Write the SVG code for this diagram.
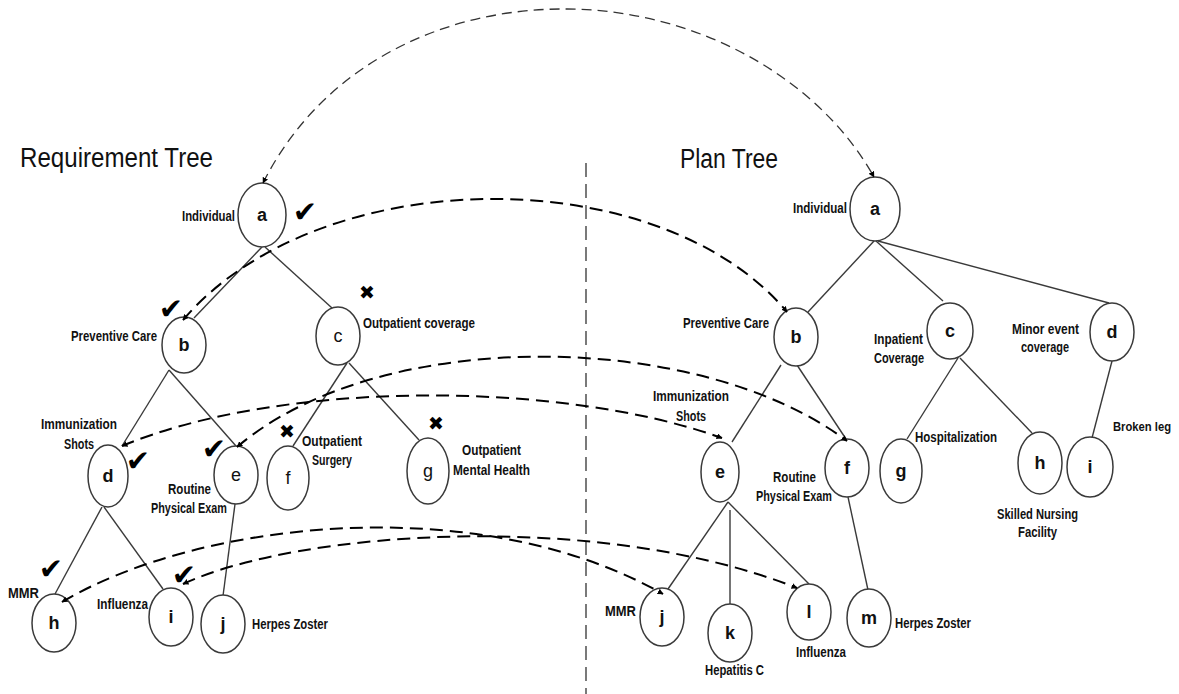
<svg xmlns="http://www.w3.org/2000/svg" width="1179" height="694" viewBox="0 0 1179 694">
<style>
.nd{fill:#fff;stroke:#3a3a3a;stroke-width:1.5}
.ed{stroke:#3a3a3a;stroke-width:1.4;fill:none}
.lt{font-family:"Liberation Sans",Arial,sans-serif;font-size:18px;font-weight:bold;fill:#111;text-anchor:middle}
.lr{font-family:"Liberation Sans",Arial,sans-serif;font-size:18px;fill:#111;text-anchor:middle}
.lb{font-family:"Liberation Sans",Arial,sans-serif;font-size:14px;font-weight:bold;fill:#111}
.ttl{font-family:"Liberation Sans",Arial,sans-serif;font-size:27px;fill:#111}
.ck{font-family:"DejaVu Sans",sans-serif;font-size:29px;fill:#000;text-anchor:middle}
.xx{font-family:"DejaVu Sans",sans-serif;font-size:19px;fill:#000;text-anchor:middle}
.dk{stroke:#000;stroke-width:2;stroke-dasharray:13 7;fill:none;marker-start:url(#ah);marker-end:url(#ah)}
.dt{stroke:#333;stroke-width:1.3;stroke-dasharray:10 6;fill:none;marker-start:url(#ah);marker-end:url(#ah)}
</style>
<defs>
<marker id="ah" viewBox="0 0 10 10" refX="9" refY="5" markerWidth="6" markerHeight="6" markerUnits="userSpaceOnUse" orient="auto-start-reverse">
<path d="M0,0 L10,5 L0,10 z" fill="#000"/>
</marker>
</defs>
<rect width="1179" height="694" fill="#fff"/>

<text class="ttl" x="20" y="167" textLength="193" lengthAdjust="spacingAndGlyphs">Requirement Tree</text>
<text class="ttl" x="680" y="168" textLength="98" lengthAdjust="spacingAndGlyphs">Plan Tree</text>
<line x1="586" y1="163" x2="586" y2="694" stroke="#333" stroke-width="1.3" stroke-dasharray="14 7"/>

<g id="edges">
<line class="ed" x1="262" y1="247" x2="194" y2="318"/>
<line class="ed" x1="265" y1="247" x2="332" y2="308"/>
<line class="ed" x1="169" y1="370" x2="122" y2="446"/>
<line class="ed" x1="169" y1="370" x2="236" y2="446"/>
<line class="ed" x1="347" y1="363" x2="293" y2="446"/>
<line class="ed" x1="349" y1="363" x2="419" y2="440"/>
<line class="ed" x1="102" y1="507" x2="55" y2="594"/>
<line class="ed" x1="104" y1="507" x2="163" y2="589"/>
<line class="ed" x1="235" y1="504" x2="223" y2="596"/>
<line class="ed" x1="874" y1="241" x2="808" y2="312"/>
<line class="ed" x1="876" y1="241" x2="943" y2="301"/>
<line class="ed" x1="878" y1="241" x2="1109" y2="303"/>
<line class="ed" x1="781" y1="365" x2="732" y2="442"/>
<line class="ed" x1="797" y1="365" x2="846" y2="439"/>
<line class="ed" x1="958" y1="358" x2="907" y2="439"/>
<line class="ed" x1="960" y1="358" x2="1032" y2="433"/>
<line class="ed" x1="1112" y1="361" x2="1092" y2="438"/>
<line class="ed" x1="728" y1="502" x2="668" y2="589"/>
<line class="ed" x1="730" y1="510" x2="730" y2="604"/>
<line class="ed" x1="728" y1="502" x2="809" y2="584"/>
<line class="ed" x1="848" y1="497" x2="868" y2="590"/>
</g>

<g id="req-a"><ellipse class="nd" cx="262" cy="215" rx="24" ry="32"/><text class="lt" x="262" y="221">a</text><text class="lb" x="182" y="221" textLength="53" lengthAdjust="spacingAndGlyphs">Individual</text><text class="ck" x="305" y="222">✔</text></g>
<g id="req-b"><ellipse class="nd" cx="184" cy="345" rx="22" ry="28"/><text class="lt" x="184" y="351">b</text><text class="lb" x="71" y="341" textLength="86" lengthAdjust="spacingAndGlyphs">Preventive Care</text><text class="ck" x="171" y="319">✔</text></g>
<g id="req-c"><ellipse class="nd" cx="338" cy="336" rx="22" ry="29"/><text class="lr" x="338" y="342">c</text><text class="lb" x="363" y="328" textLength="112" lengthAdjust="spacingAndGlyphs">Outpatient coverage</text><text class="xx" x="367" y="299">✖</text></g>
<g id="req-d"><ellipse class="nd" cx="108" cy="476" rx="20" ry="31"/><text class="lt" x="108" y="482">d</text><text class="lb" x="41" y="429" textLength="76" lengthAdjust="spacingAndGlyphs">Immunization</text><text class="lb" x="64" y="449" textLength="30" lengthAdjust="spacingAndGlyphs">Shots</text><text class="ck" x="138" y="471">✔</text></g>
<g id="req-e"><ellipse class="nd" cx="236" cy="475" rx="22" ry="29"/><text class="lr" x="236" y="481">e</text><text class="lb" x="168" y="494" textLength="43" lengthAdjust="spacingAndGlyphs">Routine</text><text class="lb" x="151" y="513" textLength="76" lengthAdjust="spacingAndGlyphs">Physical Exam</text><text class="ck" x="214" y="459">✔</text></g>
<g id="req-f"><ellipse class="nd" cx="288" cy="478" rx="21" ry="32"/><text class="lr" x="288" y="484">f</text><text class="lb" x="302" y="446" textLength="60" lengthAdjust="spacingAndGlyphs">Outpatient</text><text class="lb" x="312" y="465" textLength="40" lengthAdjust="spacingAndGlyphs">Surgery</text><text class="xx" x="287" y="438">✖</text></g>
<g id="req-g"><ellipse class="nd" cx="428" cy="471" rx="21" ry="33"/><text class="lr" x="428" y="477">g</text><text class="lb" x="462" y="455" textLength="59" lengthAdjust="spacingAndGlyphs">Outpatient</text><text class="lb" x="453" y="475" textLength="77" lengthAdjust="spacingAndGlyphs">Mental Health</text><text class="xx" x="436" y="430">✖</text></g>
<g id="req-h"><ellipse class="nd" cx="54" cy="623" rx="22" ry="29"/><text class="lt" x="54" y="629">h</text><text class="lb" x="8" y="598" textLength="31" lengthAdjust="spacingAndGlyphs">MMR</text><text class="ck" x="51" y="579">✔</text></g>
<g id="req-i"><ellipse class="nd" cx="171" cy="617" rx="22" ry="29"/><text class="lt" x="171" y="623">i</text><text class="lb" x="97" y="609" textLength="51" lengthAdjust="spacingAndGlyphs">Influenza</text><text class="ck" x="184" y="585">✔</text></g>
<g id="req-j"><ellipse class="nd" cx="223" cy="624" rx="22" ry="29"/><text class="lt" x="223" y="630">j</text><text class="lb" x="252" y="629" textLength="76" lengthAdjust="spacingAndGlyphs">Herpes Zoster</text></g>

<g id="plan-a"><ellipse class="nd" cx="875" cy="209" rx="25" ry="32"/><text class="lt" x="875" y="215">a</text><text class="lb" x="793" y="213" textLength="54" lengthAdjust="spacingAndGlyphs">Individual</text></g>
<g id="plan-b"><ellipse class="nd" cx="796" cy="337" rx="22" ry="29"/><text class="lt" x="796" y="343">b</text><text class="lb" x="683" y="328" textLength="86" lengthAdjust="spacingAndGlyphs">Preventive Care</text></g>
<g id="plan-c"><ellipse class="nd" cx="950" cy="331" rx="23" ry="28"/><text class="lt" x="950" y="337">c</text><text class="lb" x="874" y="344" textLength="49" lengthAdjust="spacingAndGlyphs">Inpatient</text><text class="lb" x="874" y="363" textLength="50" lengthAdjust="spacingAndGlyphs">Coverage</text></g>
<g id="plan-d"><ellipse class="nd" cx="1112" cy="332" rx="22" ry="29"/><text class="lt" x="1112" y="338">d</text><text class="lb" x="1012" y="334" textLength="67" lengthAdjust="spacingAndGlyphs">Minor event</text><text class="lb" x="1021" y="352" textLength="48" lengthAdjust="spacingAndGlyphs">coverage</text></g>
<g id="plan-e"><ellipse class="nd" cx="720" cy="472" rx="19" ry="30"/><text class="lt" x="720" y="478">e</text><text class="lb" x="653" y="401" textLength="76" lengthAdjust="spacingAndGlyphs">Immunization</text><text class="lb" x="676" y="421" textLength="30" lengthAdjust="spacingAndGlyphs">Shots</text></g>
<g id="plan-f"><ellipse class="nd" cx="847" cy="468" rx="22" ry="29"/><text class="lt" x="847" y="474">f</text><text class="lb" x="773" y="482" textLength="43" lengthAdjust="spacingAndGlyphs">Routine</text><text class="lb" x="756" y="501" textLength="76" lengthAdjust="spacingAndGlyphs">Physical Exam</text></g>
<g id="plan-g"><ellipse class="nd" cx="901" cy="471" rx="21" ry="32"/><text class="lt" x="901" y="477">g</text><text class="lb" x="915" y="442" textLength="82" lengthAdjust="spacingAndGlyphs">Hospitalization</text></g>
<g id="plan-h"><ellipse class="nd" cx="1040" cy="463" rx="22" ry="31"/><text class="lt" x="1040" y="469">h</text><text class="lb" x="997" y="519" textLength="81" lengthAdjust="spacingAndGlyphs">Skilled Nursing</text><text class="lb" x="1018" y="537" textLength="39" lengthAdjust="spacingAndGlyphs">Facility</text></g>
<g id="plan-i"><ellipse class="nd" cx="1090" cy="467" rx="23" ry="30"/><text class="lt" x="1090" y="473">i</text><text class="lb" x="1113" y="431" style="font-size:12px" textLength="58" lengthAdjust="spacingAndGlyphs">Broken leg</text></g>
<g id="plan-j"><ellipse class="nd" cx="662" cy="617" rx="22" ry="29"/><text class="lt" x="662" y="623">j</text><text class="lb" x="605" y="616" textLength="31" lengthAdjust="spacingAndGlyphs">MMR</text></g>
<g id="plan-k"><ellipse class="nd" cx="730" cy="633" rx="22" ry="29"/><text class="lt" x="730" y="639">k</text><text class="lb" x="705" y="675" textLength="59" lengthAdjust="spacingAndGlyphs">Hepatitis C</text></g>
<g id="plan-l"><ellipse class="nd" cx="809" cy="612" rx="22" ry="28"/><text class="lt" x="809" y="618">l</text><text class="lb" x="796" y="657" textLength="50" lengthAdjust="spacingAndGlyphs">Influenza</text></g>
<g id="plan-m"><ellipse class="nd" cx="869" cy="618" rx="22" ry="29"/><text class="lt" x="869" y="624">m</text><text class="lb" x="895" y="628" textLength="76" lengthAdjust="spacingAndGlyphs">Herpes Zoster</text></g>

<g id="mappings">
<path class="dt" d="M263,183 C325,60 450,8 567,9 C700,10 820,80 874,177"/>
<path class="dk" d="M183,320 C320,160 660,160 787,312"/>
<path class="dk" d="M122,446 C280,380 560,380 722,438"/>
<path class="dk" d="M237,447 C380,325 700,330 847,441"/>
<path class="dk" d="M62,602 C200,520 480,490 663,594"/>
<path class="dk" d="M183,584 C300,530 600,510 797,588"/>
</g>
</svg>
